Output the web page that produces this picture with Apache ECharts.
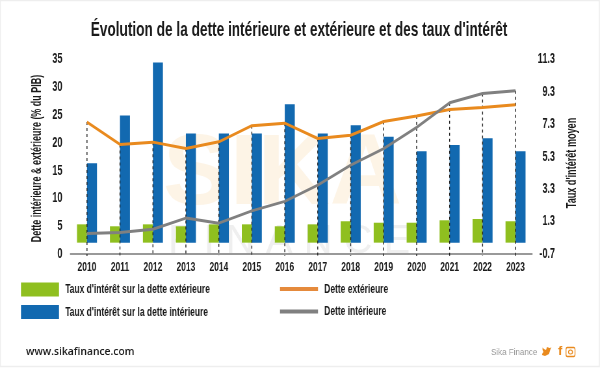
<!DOCTYPE html>
<html><head><meta charset="utf-8">
<style>html,body{margin:0;padding:0;background:#fff;overflow:hidden;width:600px;height:368px}
#c{height:368px;transform-origin:0 0}</style>
<script src="https://cdn.jsdelivr.net/npm/echarts@6/dist/echarts.min.js"></script>
</head><body><div id="c"></div>
<script>
const years=['2010','2011','2012','2013','2014','2015','2016','2017','2018','2019','2020','2021','2022','2023'];
const tauxExterieur=[1.13,1.01,1.13,1.01,1.13,1.13,1.01,1.13,1.32,1.23,1.23,1.38,1.46,1.32];
const tauxInterieur=[4.9,7.85,11.11,6.73,6.73,6.73,8.54,6.73,7.25,6.54,5.64,6.03,6.44,5.64];
const detteExterieure=[23.74,19.72,20.13,18.97,20.18,23.09,23.54,20.78,21.38,23.84,24.85,26.0,26.36,26.86];
const detteInterieure=[3.69,3.85,4.45,6.46,5.55,7.76,9.47,12.39,16.0,18.97,22.79,27.21,28.87,29.37];
const leftTicks=[0,5,10,15,20,25,30,35];
const rightTicks=[-0.7,1.3,3.3,5.3,7.3,9.3,11.3];
const SX=0.65, X=x=>x/SX;
const el=document.getElementById('c');
el.style.width=X(600)+'px';el.style.transform='scaleX('+SX+')';
const FONT='"Liberation Sans"';
const dropData=years.map((y,i)=>[i,Math.max(detteExterieure[i],detteInterieure[i])]);
const chart=echarts.init(el,null,{renderer:'canvas'});
const lab={fontFamily:FONT,fontWeight:'bold',color:'#1a1a1a'};
const leg=(name,left,top,h)=>({data:[name],left:X(left),top,itemWidth:X(38),itemHeight:h,padding:0,icon:'rect',selectedMode:false,
  textStyle:{...lab,fontSize:13,padding:[0,0,0,X(3)]}});
const F1="Taux d'intérêt sur la dette extérieure",F2="Taux d'intérêt sur la dette intérieure";
chart.setOption({
  animation:false,backgroundColor:'#fff',
  grid:{left:X(70.5),top:59.5,width:X(461.5),height:194.5},
  legend:[leg(F1,21,282.5,14),leg(F2,21,305,14),leg('Dette extérieure',280,282.5,4),leg('Dette intérieure',280,305,4)],
  xAxis:{type:'category',data:years,offset:1,
    axisLine:{show:true,lineStyle:{color:'#999',width:2}},axisTick:{show:false},
    axisLabel:{...lab,margin:6,interval:0,fontSize:13}},
  yAxis:[
    {type:'value',min:0,max:35,interval:5,splitLine:{show:false},axisLine:{show:false},axisTick:{show:false},
     axisLabel:{...lab,fontSize:14,margin:X(8),customValues:leftTicks}},
    {type:'value',min:-0.7,max:11.3,splitLine:{show:false},axisLine:{show:false},axisTick:{show:false},
     axisLabel:{...lab,fontSize:14,margin:X(23),align:'right',customValues:rightTicks,formatter:v=>v.toFixed(1)}}
  ],
  series:[
    {name:F1,type:'bar',yAxisIndex:1,data:tauxExterieur,barWidth:X(10),barGap:0,itemStyle:{color:'#8fbf1f'},z:2},
    {name:F2,type:'bar',yAxisIndex:1,data:tauxInterieur,barWidth:X(10),barGap:0,itemStyle:{color:'#1269b0'},z:2},
    {name:'Dette extérieure',type:'line',data:detteExterieure,symbol:'none',lineStyle:{color:'#e98a1e',width:3},itemStyle:{color:'#e58a3c'},z:4},
    {name:'Dette intérieure',type:'line',data:detteInterieure,symbol:'none',lineStyle:{color:'#808080',width:3},itemStyle:{color:'#808080'},z:4},
    {type:'custom',z:3,silent:true,encode:{x:0,y:1},data:dropData,
     renderItem:(p,api)=>{const a=api.coord([api.value(0),api.value(1)]);const b=api.coord([api.value(0),0]);
       return {type:'line',shape:{x1:a[0],y1:a[1],x2:b[0],y2:b[1]+2},style:{stroke:'#222',lineWidth:1.4,lineDash:[3,3]}};}}
  ],
  graphic:[
    {type:'rect',z:-10,shape:{x:0.5,y:0.5,width:X(599),height:366},style:{fill:'none',stroke:'#eee',lineWidth:1.5}},
    {type:'text',z:-5,x:X(163),y:126,scaleX:1/SX,style:{text:'SIKA',font:'bold 100px "Liberation Sans"',fill:'rgba(240,170,60,0.13)'}},
    {type:'text',z:-5,x:X(168),y:222,scaleX:1/SX,style:{text:'F I N A N C E',font:'40px "Liberation Sans"',fill:'rgba(120,120,120,0.12)'}},
    {type:'text',x:X(299),y:30,style:{text:"Évolution de la dette intérieure et extérieure et des taux d'intérêt",font:'bold 21px '+FONT,fill:'#1a1a1a',textAlign:'center',textVerticalAlign:'middle'}},
    {type:'text',x:X(37),y:158.5,rotation:Math.PI/2,scaleX:SX,scaleY:1/SX,style:{text:'Dette intérieure & extérieure (% du PIB)',font:'bold 13.8px '+FONT,fill:'#1a1a1a',textAlign:'center',textVerticalAlign:'middle'}},
    {type:'text',x:X(572),y:163,rotation:Math.PI/2,scaleX:SX,scaleY:1/SX,style:{text:"Taux d'intérêt moyen",font:'bold 14px '+FONT,fill:'#1a1a1a',textAlign:'center',textVerticalAlign:'middle'}},
    {type:'text',x:X(26),y:347,scaleX:1/SX,style:{text:'www.sikafinance.com',font:'600 10.3px "Open Sans"',fill:'#1a1a1a'}},
    {type:'text',x:X(491),y:348,scaleX:0.92/SX,style:{text:'Sika Finance',font:'8.7px "Liberation Sans"',fill:'#999'}},
    {type:'text',x:X(558),y:345,scaleX:1/SX,style:{text:'f',font:'bold 13px "Liberation Sans"',fill:'#e98a1e'}},
    {type:'polygon',shape:{points:[[542,355],[545,356],[549,354],[550.5,349],[551.5,347.5],[549.5,348],[547,347],[546,350],[544,349],[542.5,347.5],[542.5,350],[543.5,352],[542.5,353]].map(p=>[X(p[0]),p[1]])},style:{fill:'#e98a1e'}},
    {type:'rect',shape:{x:X(566),y:347.5,width:X(9),height:9,r:2},style:{fill:'none',stroke:'#e98a1e',lineWidth:1.3}},
    {type:'circle',x:X(570.5),y:352,scaleX:1/SX,shape:{cx:0,cy:0,r:2},style:{fill:'none',stroke:'#e98a1e',lineWidth:1}}
  ]
});
</script></body></html>
